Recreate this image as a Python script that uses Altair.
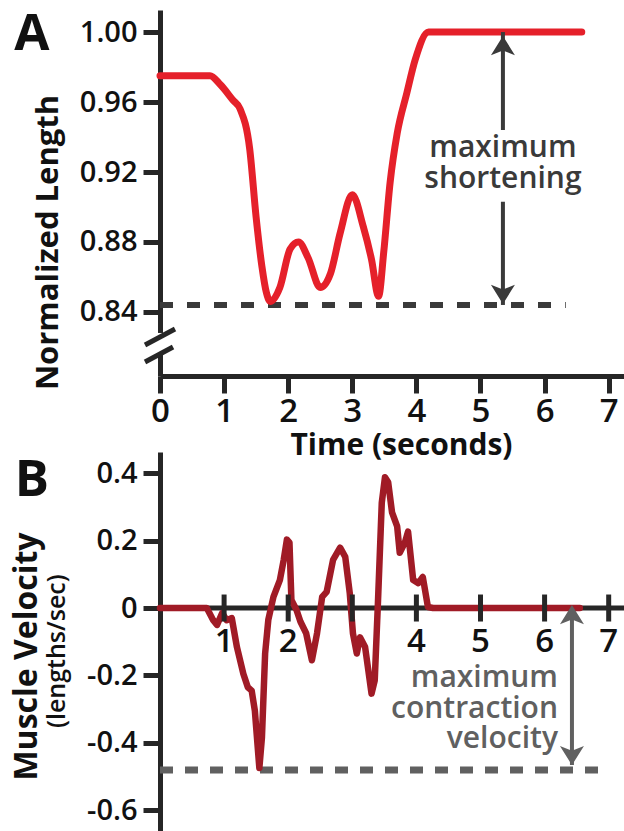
import altair as alt
import pandas as pd

# ---------------- data ----------------
# Panel A: normalized muscle length vs time
time_a = [0.0, 0.78, 0.94, 1.14, 1.25, 1.40, 1.50, 1.59, 1.66, 1.72, 1.87, 2.03, 2.16, 2.31,
          2.50, 2.66, 2.81, 3.00, 3.17, 3.30, 3.41, 3.49, 3.59, 3.70, 3.85, 3.98, 4.19, 6.58]
length_a = [0.975, 0.975, 0.970, 0.961, 0.956, 0.933, 0.894, 0.866, 0.851, 0.846, 0.854, 0.876,
            0.880, 0.871, 0.854, 0.862, 0.885, 0.907, 0.889, 0.870, 0.849, 0.874, 0.914, 0.942,
            0.965, 0.984, 1.000, 1.000]

# Panel B: muscle velocity vs time
time_b = [0.00, 0.73, 0.83, 0.89, 0.97, 1.04, 1.12, 1.20, 1.30, 1.37, 1.43, 1.48, 1.55, 1.59,
          1.64, 1.69, 1.77, 1.87, 1.93, 1.98, 2.02, 2.05, 2.13, 2.19, 2.28, 2.37, 2.45, 2.53,
          2.60, 2.70, 2.81, 2.89, 2.96, 3.01, 3.07, 3.12, 3.20, 3.30, 3.35, 3.40, 3.46, 3.51,
          3.56, 3.62, 3.70, 3.74, 3.82, 3.87, 3.95, 4.03, 4.10, 4.18, 4.26, 6.55]
velocity_b = [0, 0, -0.036, -0.05, -0.015, -0.036, -0.03, -0.116, -0.195, -0.235, -0.245, -0.305,
              -0.475, -0.385, -0.135, -0.035, 0.033, 0.083, 0.143, 0.203, 0.194, 0.024, -0.006,
              -0.04, -0.075, -0.155, -0.075, 0.033, 0.048, 0.143, 0.179, 0.152, 0.045, -0.075,
              -0.135, -0.087, -0.116, -0.254, -0.215, 0.015, 0.313, 0.388, 0.373, 0.284, 0.242,
              0.164, 0.194, 0.227, 0.083, 0.074, 0.092, 0.003, 0, 0]

x_ticks = [0, 1, 2, 3, 4, 5, 6, 7]
b_x_ticks = [1, 2, 3, 4, 5, 6, 7]
b_x_labels = ["1", "2", "", "4", "5", "6", "7"]   # "3" is hidden by the trace in the original
a_y_ticks = [0.84, 0.88, 0.92, 0.96, 1.00]
b_y_ticks = [0.4, 0.2, 0, -0.2, -0.4, -0.6]

x_domain = [0, 7.239]
a_domain = [0.8034, 1.0126]
b_domain = [-0.6617, 0.463]

max_shortening_level = 0.844
max_shortening_end = 6.33
max_velocity_level = -0.481
max_velocity_end = 6.9

# annotation anchors (data units)
arrow_a_t = 5.35
arrow_a_segments = [(1.0, 0.944), (0.903, max_shortening_level)]
text_a = "maximum\nshortening"
text_a_v = 0.9286
arrow_b_t = 6.427
text_b_t = 6.209
text_b = "maximum\ncontraction\nvelocity"
text_b_v = -0.2344
axis_break_gap = [0.828, 0.8154]
axis_break_lines = [(-0.234, 0.8211, 0.234, 0.8303), (-0.234, 0.8114, 0.203, 0.8200)]
panel_letter_t = -2.0
panel_letter_v = {"A": 0.9985, "B": 0.378}
sub_title_pos = (-1.607, -0.128)

# ---------------- styling ----------------
FONT = "Open Sans"
AX = "#262626"
RED = "#e5202a"
DARKRED = "#a01b26"
ANN_A = "#3a3a3a"
ANN_B = "#606060"

x_scale = alt.Scale(domain=x_domain, nice=False, zero=False)
x_axis = alt.Axis(values=x_ticks, format="d", orient="bottom", offset=-455,
                  tickSize=17, tickWidth=5, tickColor=AX, domainWidth=5, domainColor=AX,
                  labelFont=FONT, labelFontSize=33, labelFontWeight=600, labelColor="#111",
                  labelPadding=2, labelFlush=False, labelOverlap=False,
                  title="Time (seconds)", titleFont=FONT, titleFontSize=30, titleFontWeight=700,
                  titleColor="#111", titleX=241, titleY=54, titleAlign="center",
                  titleBaseline="top", grid=False)

a_scale = alt.Scale(domain=a_domain, range=[366, 0], nice=False, zero=False)
a_axis = alt.Axis(orient="left", values=a_y_ticks, format=".2f",
                  tickSize=17, tickWidth=5, tickColor=AX, domainWidth=5, domainColor=AX,
                  labelFont=FONT, labelFontSize=29, labelFontWeight=600, labelColor="#111",
                  labelPadding=6, labelOverlap=False, grid=False,
                  title="Normalized Length", titleFont=FONT, titleFontSize=31, titleFontWeight=700,
                  titleColor="#111", titleX=-112, titleY=232, titleAngle=270,
                  titleAlign="center", titleBaseline="middle")

b_scale = alt.Scale(domain=b_domain, range=[821, 442], nice=False, zero=False)
b_axis = alt.Axis(orient="left", values=b_y_ticks,
                  labelExpr="datum.value == 0 ? '0' : (datum.value < 0 ? '-' : '') + format(abs(datum.value), '.1f')",
                  tickSize=17, tickWidth=5, tickColor=AX, domainWidth=5, domainColor=AX,
                  labelFont=FONT, labelFontSize=29, labelFontWeight=600, labelColor="#111",
                  labelPadding=6, labelOverlap=False, grid=False,
                  title="Muscle Velocity", titleFont=FONT, titleFontSize=32, titleFontWeight=700,
                  titleColor="#111", titleX=-134, titleY=646, titleAngle=270,
                  titleAlign="center", titleBaseline="middle")

X = alt.X("t:Q", scale=x_scale, axis=x_axis)
YA = alt.Y("v:Q", scale=a_scale, axis=a_axis)
YB = alt.Y("v:Q", scale=b_scale, axis=b_axis)

# ---------------- panel A ----------------
df_a = pd.DataFrame({"t": time_a, "v": length_a})
dash_a = pd.DataFrame({"t": [0], "t2": [max_shortening_end], "v": [max_shortening_level]})
gap_a = pd.DataFrame({"t": [0], "v": [axis_break_gap[0]], "v2": [axis_break_gap[1]]})
brk_a = pd.DataFrame([{"t": a, "v": b, "t2": c, "v2": d} for a, b, c, d in axis_break_lines])
shaft_a = pd.DataFrame([{"t": arrow_a_t, "v": a, "v2": b} for a, b in arrow_a_segments])
head_a_up = pd.DataFrame({"t": [arrow_a_t], "v": [1.0]})
head_a_dn = pd.DataFrame({"t": [arrow_a_t], "v": [max_shortening_level]})
txt_a = pd.DataFrame({"t": [arrow_a_t], "v": [text_a_v], "s": [text_a]})
let_a = pd.DataFrame({"t": [panel_letter_t], "v": [panel_letter_v["A"]], "s": ["A"]})

UP = "M0,-1L1,0.6L0,0.2L-1,0.6Z"
DN = "M0,1L1,-0.6L0,-0.2L-1,-0.6Z"

layer_a = alt.layer(
    alt.Chart(dash_a).mark_rule(color=ANN_A, strokeWidth=6, strokeDash=[13, 14]).encode(
        x=X, x2="t2:Q", y=YA),
    alt.Chart(df_a).mark_line(color=RED, strokeWidth=7, interpolate="monotone",
                              strokeJoin="round", strokeCap="round").encode(x=X, y=YA),
    alt.Chart(gap_a).mark_rule(color="white", strokeWidth=9).encode(x=X, y=YA, y2="v2:Q"),
    alt.Chart(brk_a).mark_rule(color=AX, strokeWidth=5).encode(x=X, x2="t2:Q", y=YA, y2="v2:Q"),
    alt.Chart(shaft_a).mark_rule(color=ANN_A, strokeWidth=4).encode(x=X, y=YA, y2="v2:Q"),
    alt.Chart(head_a_up).mark_point(shape=UP, size=576, filled=True, opacity=1, color=ANN_A,
                                    yOffset=16).encode(x=X, y=YA),
    alt.Chart(head_a_dn).mark_point(shape=DN, size=576, filled=True, opacity=1, color=ANN_A,
                                    yOffset=-13).encode(x=X, y=YA),
    alt.Chart(txt_a).mark_text(font=FONT, fontSize=30, fontWeight=600, color=ANN_A,
                               align="center", baseline="alphabetic", lineBreak="\n",
                               lineHeight=31).encode(x=X, y=YA, text="s:N"),
    alt.Chart(let_a).mark_text(font=FONT, fontSize=51, fontWeight=700, color="#111",
                               align="center", baseline="middle").encode(x=X, y=YA, text="s:N"),
)

# ---------------- panel B ----------------
df_b = pd.DataFrame({"t": time_b, "v": velocity_b})
zero_b = pd.DataFrame({"t": [x_domain[0]], "t2": [x_domain[1]], "v": [0]})
ticks_b = pd.DataFrame({"t": b_x_ticks, "v": [0] * len(b_x_ticks), "s": b_x_labels})
dash_b = pd.DataFrame({"t": [0], "t2": [max_velocity_end], "v": [max_velocity_level]})
shaft_b = pd.DataFrame({"t": [arrow_b_t], "v": [0], "v2": [max_velocity_level + 0.015]})
head_b_up = pd.DataFrame({"t": [arrow_b_t], "v": [0]})
head_b_dn = pd.DataFrame({"t": [arrow_b_t], "v": [max_velocity_level]})
txt_b = pd.DataFrame({"t": [text_b_t], "v": [text_b_v], "s": [text_b]})
let_b = pd.DataFrame({"t": [panel_letter_t], "v": [panel_letter_v["B"]], "s": ["B"]})
sub_b = pd.DataFrame({"t": [sub_title_pos[0]], "v": [sub_title_pos[1]], "s": ["(lengths/sec)"]})

layer_b = alt.layer(
    alt.Chart(zero_b).mark_rule(color=AX, strokeWidth=5).encode(x=X, x2="t2:Q", y=YB),
    alt.Chart(dash_b).mark_rule(color=ANN_B, strokeWidth=7, strokeDash=[13, 12]).encode(
        x=X, x2="t2:Q", y=YB),
    alt.Chart(df_b).mark_line(color=DARKRED, strokeWidth=6.5, strokeJoin="round",
                              strokeCap="round").encode(x=X, y=YB),
    alt.Chart(ticks_b).mark_tick(orient="vertical", size=27, thickness=5, color=AX, opacity=1).encode(
        x=X, y=YB),
    alt.Chart(ticks_b).mark_text(font=FONT, fontSize=33, fontWeight=600, color="#111",
                                 align="center", baseline="middle", dy=34).encode(x=X, y=YB, text="s:N"),
    alt.Chart(shaft_b).mark_rule(color=ANN_B, strokeWidth=4).encode(x=X, y=YB, y2="v2:Q"),
    alt.Chart(head_b_up).mark_point(shape=UP, size=576, filled=True, opacity=1, color=ANN_B,
                                    yOffset=9).encode(x=X, y=YB),
    alt.Chart(head_b_dn).mark_point(shape=DN, size=576, filled=True, opacity=1, color=ANN_B,
                                    yOffset=-17).encode(x=X, y=YB),
    alt.Chart(txt_b).mark_text(font=FONT, fontSize=30, fontWeight=600, color=ANN_B,
                               align="right", baseline="alphabetic", lineBreak="\n",
                               lineHeight=30.5).encode(x=X, y=YB, text="s:N"),
    alt.Chart(let_b).mark_text(font=FONT, fontSize=51, fontWeight=700, color="#111",
                               align="center", baseline="middle").encode(x=X, y=YB, text="s:N"),
    alt.Chart(sub_b).mark_text(font=FONT, fontSize=25, fontWeight=600, color="#111", angle=270,
                               align="center", baseline="middle").encode(x=X, y=YB, text="s:N"),
)

chart = alt.layer(layer_a, layer_b).resolve_scale(y="independent").properties(
    width=464, height=821,
    padding={"left": 160, "top": 10, "right": 0, "bottom": 0},
    autosize=alt.AutoSizeParams(type="none"),
    background="white",
).configure_view(stroke=None)

chart.save("out.html", embed_options={"renderer": "svg", "actions": False})
